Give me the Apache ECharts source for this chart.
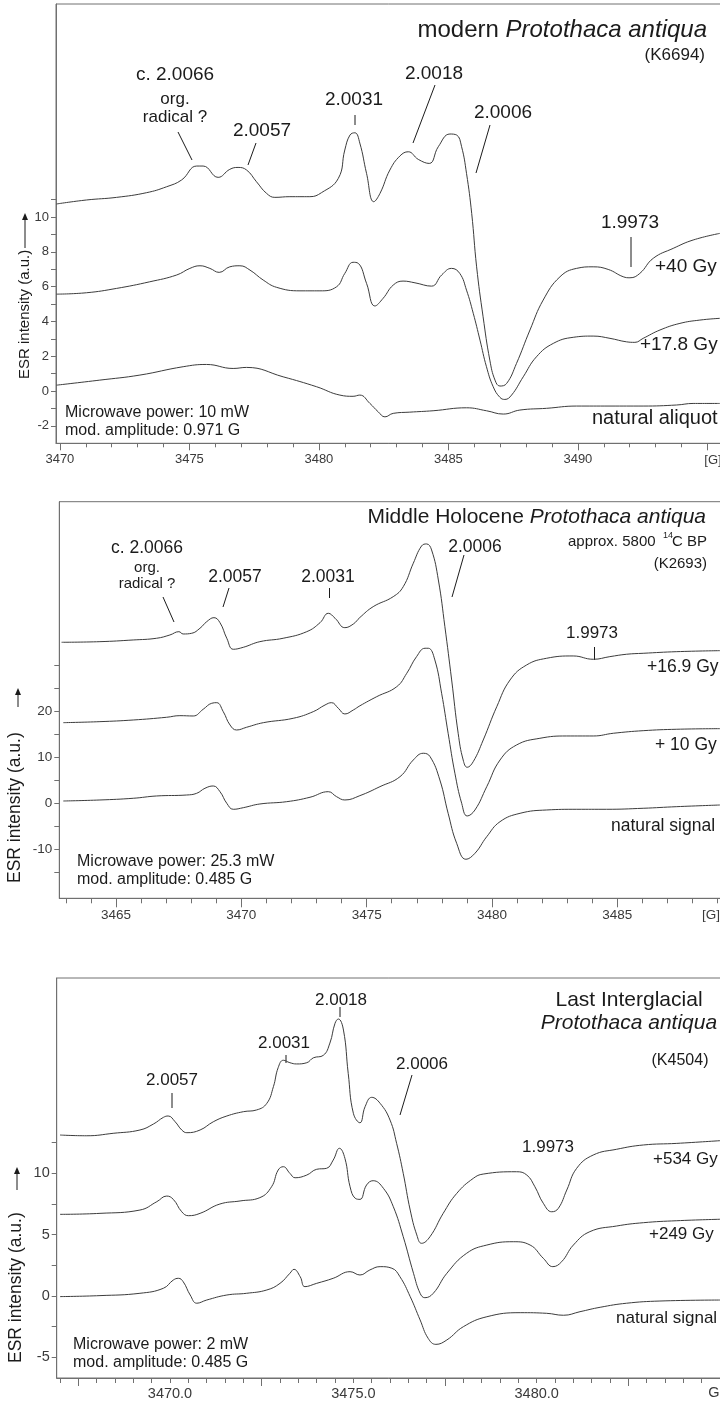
<!DOCTYPE html>
<html>
<head>
<meta charset="utf-8">
<script src="https://cdn.jsdelivr.net/npm/echarts@6/dist/echarts.min.js"></script>
<style>
  html, body { margin: 0; padding: 0; background: #ffffff; }
  #chart { width: 720px; height: 1402px; }
</style>
</head>
<body>
<div id="chart"></div>
<script>
// ---------- ESR spectra: magnetic field [G] and intensity [a.u.] ----------

// modern Protothaca antiqua (K6694)
const modernField40 = [3469.87,3471.03,3472.19,3473.35,3474.12,3474.70,3475.28,3475.53,3476.11,3476.56,3476.88,3477.21,3477.59,3477.98,3478.30,3478.88,3479.65,3480.10,3480.75,3481.00,3481.20,3481.39,3481.58,3481.84,3482.12,3482.36,3482.74,3483.13,3483.45,3483.84,3484.26,3484.61,3485.06,3485.32,3485.51,3485.70,3485.90,3486.09,3486.34,3486.60,3486.80,3486.99,3487.25,3487.63,3488.15,3488.66,3489.31,3489.95,3490.59,3491.17,3491.75,3492.01,3492.39,3492.91,3493.68,3494.45,3495.48];
const modernInt40 = [10.75,10.98,11.13,11.40,11.74,12.13,12.93,12.93,12.28,12.74,12.85,12.70,12.03,11.36,11.13,11.17,11.17,11.40,12.22,13.85,14.71,14.84,14.25,12.51,10.88,11.36,12.70,13.51,13.75,13.31,13.08,14.04,14.77,14.71,14.04,12.51,10.21,7.14,4.27,1.78,0.63,0.29,0.44,1.59,3.51,5.23,6.57,7.05,7.14,6.99,6.57,6.51,6.76,7.63,8.20,8.68,9.06];
const modernField178 = [3469.87,3471.03,3472.19,3473.47,3474.51,3475.02,3475.41,3475.79,3476.15,3476.56,3476.95,3477.34,3477.85,3478.37,3479.27,3480.04,3480.68,3481.00,3481.32,3481.52,3481.84,3482.16,3482.48,3482.87,3483.25,3483.71,3484.35,3484.74,3485.12,3485.44,3485.70,3485.96,3486.22,3486.47,3486.73,3486.99,3487.18,3487.44,3487.89,3488.40,3489.05,3489.82,3490.59,3491.24,3491.88,3492.20,3492.52,3493.17,3493.94,3494.71,3495.48];
const modernInt178 = [5.57,5.65,5.90,6.28,6.67,7.05,7.20,7.05,6.82,7.14,7.20,6.95,6.38,5.96,5.76,5.76,5.99,6.76,7.40,7.34,6.19,4.89,5.33,6.09,6.32,6.22,6.03,6.67,7.05,6.76,5.80,4.47,2.93,1.40,0.25,-0.36,-0.48,-0.23,0.82,1.97,2.74,3.09,3.16,3.03,2.83,2.80,3.03,3.51,3.89,4.08,4.18];
const modernFieldNat = [3469.87,3471.54,3473.09,3474.76,3475.66,3476.69,3477.21,3478.62,3479.91,3480.81,3481.32,3481.58,3481.97,3482.29,3482.55,3482.87,3483.51,3484.41,3485.70,3486.47,3487.12,3487.76,3488.79,3489.95,3491.24,3492.52,3493.81,3494.45,3495.48];
const modernIntNat = [0.34,0.63,0.92,1.40,1.53,1.30,1.36,0.82,0.25,-0.23,-0.30,-0.23,-0.71,-1.19,-1.48,-1.28,-1.21,-1.13,-0.96,-1.13,-1.32,-1.09,-0.99,-0.86,-0.86,-0.86,-0.80,-0.71,-0.71];

// Middle Holocene Protothaca antiqua (K2693)
const holoceneField169 = [3462.83,3464.36,3465.69,3466.62,3467.15,3467.51,3467.68,3468.02,3468.35,3468.62,3468.91,3469.15,3469.42,3469.68,3470.08,3470.74,3471.67,3472.61,3473.14,3473.47,3473.74,3474.13,3474.47,3474.73,3475.26,3476.06,3476.46,3476.86,3477.19,3477.39,3477.59,3477.86,3478.12,3478.39,3478.65,3478.85,3479.01,3479.25,3479.65,3480.19,3480.72,3481.38,3482.18,3483.24,3484.04,3484.70,3485.37,3486.03,3487.37,3489.09];
const holoceneInt169 = [34.99,35.12,35.49,35.86,36.57,37.29,36.79,36.94,38.03,39.46,40.33,39.24,35.86,33.47,33.90,35.12,35.86,37.29,39.24,41.28,40.20,38.16,38.96,40.37,42.72,44.89,47.06,52.14,55.89,56.33,55.03,48.51,38.38,26.81,15.24,9.44,7.86,9.07,13.78,21.01,26.81,30.06,31.52,32.02,31.30,31.87,32.39,32.60,32.95,33.17];
const holoceneField10 = [3462.90,3464.36,3465.69,3467.02,3467.55,3468.08,3468.48,3468.82,3469.02,3469.28,3469.55,3469.81,3470.21,3470.88,3472.07,3472.87,3473.34,3473.60,3473.87,3474.13,3474.47,3474.73,3475.40,3476.20,3476.60,3476.99,3477.33,3477.46,3477.72,3477.99,3478.25,3478.52,3478.79,3479.01,3479.32,3479.79,3480.32,3480.98,3481.91,3482.98,3484.04,3484.84,3486.03,3487.37,3489.09];
const holoceneInt10 = [17.54,17.76,18.12,18.71,19.06,18.99,20.45,21.75,21.88,19.93,17.04,15.95,16.54,17.54,18.49,19.93,21.38,21.88,20.66,19.43,20.30,21.20,23.18,25.35,28.26,31.87,33.69,33.69,31.15,23.92,15.24,6.56,0.04,-2.71,-1.41,3.65,9.44,12.70,14.15,14.65,14.65,15.24,15.80,16.11,16.24];
const holoceneFieldNat = [3462.90,3464.36,3465.69,3466.62,3467.82,3468.22,3468.55,3468.88,3469.15,3469.42,3469.68,3470.08,3470.74,3471.81,3472.74,3473.47,3473.80,3474.13,3474.73,3475.53,3476.33,3476.86,3477.26,3477.53,3477.92,3478.25,3478.59,3478.96,3479.32,3479.79,3480.32,3481.12,3482.18,3483.38,3484.57,3486.03,3487.37,3489.09];
const holoceneIntNat = [0.54,0.76,1.13,1.63,1.84,2.21,3.30,3.80,2.56,0.04,-1.26,-0.91,-0.11,0.39,1.35,2.56,1.48,0.76,1.70,3.65,5.82,9.44,10.90,10.16,5.10,-2.13,-8.64,-12.11,-10.81,-7.21,-3.95,-2.13,-1.41,-1.26,-1.26,-1.04,-0.69,-0.33];

// Last Interglacial Protothaca antiqua (K4504)
const interglacialField534 = [3467.00,3467.73,3468.45,3469.18,3469.55,3469.82,3469.95,3470.14,3470.32,3470.46,3470.82,3471.18,3471.55,3472.00,3472.36,3472.64,3472.82,3472.95,3473.09,3473.27,3473.45,3473.73,3473.91,3474.18,3474.36,3474.50,3474.59,3474.73,3474.86,3475.00,3475.18,3475.32,3475.50,3475.73,3476.00,3476.18,3476.36,3476.55,3476.73,3476.86,3477.09,3477.45,3477.82,3478.27,3478.54,3479.45,3479.73,3479.95,3480.18,3480.41,3480.59,3480.82,3481.09,3481.54,3482.18,3482.91,3483.82,3485.00];
const interglacialInt534 = [13.11,13.05,13.25,13.52,14.01,14.55,14.66,14.19,13.52,13.30,13.52,14.19,14.66,15.01,15.15,15.69,17.05,18.60,19.20,19.00,18.90,19.00,19.40,19.60,20.60,22.21,22.56,21.66,18.13,14.88,14.11,15.42,16.18,15.69,14.33,12.43,9.99,7.00,4.97,4.29,4.83,6.73,8.36,9.58,9.93,10.12,9.85,8.90,7.55,6.86,7.14,8.63,10.40,11.48,11.95,12.30,12.43,12.65];
const interglacialField249 = [3467.00,3468.09,3469.18,3469.64,3469.91,3470.09,3470.32,3470.50,3470.82,3471.36,3471.91,3472.45,3472.77,3472.95,3473.09,3473.27,3473.41,3473.73,3474.00,3474.27,3474.45,3474.62,3474.77,3474.91,3475.05,3475.18,3475.36,3475.54,3475.82,3476.09,3476.36,3476.64,3476.82,3476.95,3477.18,3477.55,3478.09,3478.64,3479.36,3479.82,3480.18,3480.44,3480.68,3481.00,3481.45,3482.18,3482.91,3483.82,3485.00];
const interglacialInt249 = [6.65,6.73,7.00,7.68,8.14,7.87,6.86,6.54,6.73,7.49,7.74,8.01,8.90,10.26,10.53,9.99,9.63,9.85,10.32,10.40,11.07,12.03,11.21,8.90,7.96,7.87,9.04,9.39,8.77,7.27,4.83,1.85,0.22,-0.14,0.22,1.85,3.48,4.15,4.42,4.15,3.07,2.39,2.79,4.15,5.24,5.70,5.97,6.13,6.25];
const interglacialFieldNat = [3467.00,3468.09,3469.18,3469.82,3470.09,3470.23,3470.36,3470.55,3470.73,3471.00,3471.55,3472.09,3472.64,3473.00,3473.27,3473.38,3473.55,3473.68,3474.00,3474.45,3474.91,3475.18,3475.45,3475.73,3476.05,3476.27,3476.55,3476.82,3477.04,3477.25,3477.55,3478.00,3478.64,3479.55,3480.27,3480.73,3481.18,3481.73,3482.45,3483.36,3485.00];
const interglacialIntNat = [-0.05,0.03,0.22,0.63,1.30,1.44,1.16,0.08,-0.59,-0.33,0.08,0.22,0.49,1.03,1.85,2.17,1.57,0.76,1.03,1.44,1.98,1.71,2.12,2.39,2.26,1.57,-0.05,-1.95,-3.45,-3.94,-3.58,-2.50,-1.69,-1.36,-1.41,-1.57,-1.28,-0.92,-0.59,-0.41,-0.33];

// tick labels
const modernFieldLabels = [3470, 3475, 3480, 3485, 3490];
const modernIntLabels = [-2, 0, 2, 4, 6, 8, 10];
const holoceneFieldLabels = [3465, 3470, 3475, 3480, 3485];
const holoceneIntLabels = [-10, 0, 10, 20];
const interglacialFieldLabels = [3470, 3475, 3480];
const interglacialIntLabels = [-5, 0, 5, 10];

// ---------- helpers ----------
const FONT = '"Liberation Sans", Arial, Helvetica, sans-serif';
const INK = '#1b1b1b';
const CURVE = '#3c3c3c';
const FRAME = '#707070';
const TICKTXT = '#3a3a3a';

function steps(a, b, s) {
  const out = [];
  for (let v = a; v <= b + 1e-9; v += s) out.push(+v.toFixed(3));
  return out;
}
function without(arr, ex) {
  return arr.filter(v => !ex.some(e => Math.abs(e - v) < 1e-6));
}
function pairs(xs, ys) {
  const n = Math.min(xs.length, ys.length);
  const out = [];
  for (let i = 0; i < n; i++) out.push([xs[i], ys[i]]);
  return out;
}

// ---------- panel layout ----------
const panels = [
  {
    left: 56, top: 4, height: 439.3, ppg: 25.9,
    xMin: 3469.85, xMax: 3496.2, yMin: -3, yMax: 22.24,
    xMajor: steps(3470, 3495, 5), xMinor: without(steps(3470, 3496, 1), steps(3470, 3495, 5)),
    xLabels: modernFieldLabels, xFmt: v => String(v),
    yTicks: steps(-2, 11, 1), yLabels: modernIntLabels,
    majorLen: 7, minorLen: 4, fs: 13, xMargin: 10,
    curves: [[modernField40, modernInt40], [modernField178, modernInt178], [modernFieldNat, modernIntNat]]
  },
  {
    left: 59.3, top: 501.7, height: 396.6, ppg: 25.07,
    xMin: 3462.74, xMax: 3490, yMin: -20.58, yMax: 65.5,
    xMajor: steps(3465, 3485, 5), xMinor: without(steps(3463, 3489, 1), steps(3465, 3485, 5)),
    xLabels: holoceneFieldLabels, xFmt: v => String(v),
    yTicks: steps(-15, 30, 5), yLabels: holoceneIntLabels,
    majorLen: 9, minorLen: 5, fs: 13.5, xMargin: 10,
    curves: [[holoceneField169, holoceneInt169], [holoceneField10, holoceneInt10], [holoceneFieldNat, holoceneIntNat]]
  },
  {
    left: 56.7, top: 978, height: 400, ppg: 36.67,
    xMin: 3466.91, xMax: 3486, yMin: -6.68, yMax: 25.9,
    xMajor: steps(3467.5, 3482.5, 5), xMinor: without(steps(3467, 3485, 0.5), steps(3467.5, 3482.5, 5)),
    xLabels: interglacialFieldLabels, xFmt: v => v.toFixed(1),
    yTicks: steps(-5, 12.5, 2.5), yLabels: interglacialIntLabels,
    majorLen: 8, minorLen: 5, fs: 14.5, xMargin: 8,
    curves: [[interglacialField534, interglacialInt534], [interglacialField249, interglacialInt249], [interglacialFieldNat, interglacialIntNat]]
  }
];

const grids = [], xAxes = [], yAxes = [], series = [];
panels.forEach((p, i) => {
  grids.push({
    left: p.left, top: p.top, height: p.height, width: (p.xMax - p.xMin) * p.ppg,
    show: true, borderColor: FRAME, borderWidth: 1, backgroundColor: 'transparent',
    containLabel: false, outerBoundsMode: 'none'
  });
  const labelStyle = { color: TICKTXT, fontSize: p.fs, fontFamily: FONT };
  xAxes.push({
    gridIndex: i, type: 'value', position: 'bottom', min: p.xMin, max: p.xMax,
    axisLine: { show: true, onZero: false, lineStyle: { color: FRAME, width: 1 } },
    axisTick: { show: true, customValues: p.xMajor, length: p.majorLen, lineStyle: { color: FRAME, width: 1 } },
    axisLabel: Object.assign({ show: true, customValues: p.xLabels, formatter: p.xFmt, margin: p.xMargin }, labelStyle),
    splitLine: { show: false }
  });
  xAxes.push({
    gridIndex: i, type: 'value', position: 'bottom', min: p.xMin, max: p.xMax,
    axisLine: { show: false, onZero: false },
    axisTick: { show: true, customValues: p.xMinor, length: p.minorLen, lineStyle: { color: FRAME, width: 1 } },
    axisLabel: { show: false },
    splitLine: { show: false }
  });
  yAxes.push({
    gridIndex: i, type: 'value', position: 'left', min: p.yMin, max: p.yMax,
    axisLine: { show: true, onZero: false, lineStyle: { color: FRAME, width: 1 } },
    axisTick: { show: true, customValues: p.yTicks, length: 5, lineStyle: { color: FRAME, width: 1 } },
    axisLabel: Object.assign({ show: true, customValues: p.yLabels, margin: 7,
      verticalAlign: 'middle', padding: [0, 0, 8, 0] }, labelStyle),
    splitLine: { show: false }
  });
  p.curves.forEach(([xs, ys]) => {
    series.push({
      type: 'line', xAxisIndex: 2 * i, yAxisIndex: i,
      data: pairs(xs, ys), showSymbol: false, symbol: 'none',
      smooth: 0.45, silent: true,
      lineStyle: { color: CURVE, width: 1 }
    });
  });
});

// ---------- annotations ----------
function txt(x, y, s, size, align, extra) {
  return {
    type: 'text', x: x, y: y, silent: true,
    style: Object.assign({
      text: s, fill: INK, fontSize: size, fontFamily: FONT,
      align: align || 'left', verticalAlign: 'middle',
      textAlign: align || 'left', textVerticalAlign: 'middle'
    }, extra || {})
  };
}
function richTitle(x, y, plain, italic, size, align) {
  return {
    type: 'text', x: x, y: y, silent: true,
    style: {
      text: (plain ? '{n|' + plain + '}' : '') + '{i|' + italic + '}',
      rich: {
        n: { fontSize: size, fontFamily: FONT, fill: INK },
        i: { fontSize: size, fontFamily: FONT, fontStyle: 'italic', fill: INK }
      },
      align: align, verticalAlign: 'middle', textAlign: align, textVerticalAlign: 'middle'
    }
  };
}
function seg(x1, y1, x2, y2) {
  return { type: 'line', silent: true, shape: { x1, y1, x2, y2 }, style: { stroke: INK, lineWidth: 1 } };
}
function axisName(x, yStart, size, arrowX, arrowTail, arrowHead) {
  return [
    { type: 'text', x: x, y: yStart, rotation: Math.PI / 2, silent: true,
      style: { text: 'ESR intensity (a.u.)', fill: INK, fontSize: size, fontFamily: FONT,
        align: 'left', verticalAlign: 'middle', textAlign: 'left', textVerticalAlign: 'middle' } },
    seg(arrowX, arrowTail, arrowX, arrowHead + 5),
    { type: 'polygon', silent: true,
      shape: { points: [[arrowX - 3, arrowHead + 7], [arrowX + 3, arrowHead + 7], [arrowX, arrowHead]] },
      style: { fill: INK } }
  ];
}

const graphics = [].concat(
  // modern shell
  [
    richTitle(707, 30, 'modern ', 'Protothaca antiqua', 24, 'right'),
    txt(705, 55, '(K6694)', 17, 'right'),
    txt(175, 75, 'c. 2.0066', 19, 'center'),
    txt(175, 99, 'org.', 17, 'center'),
    txt(175, 117, 'radical ?', 17, 'center'),
    seg(178, 132, 192, 160),
    txt(262, 131, '2.0057', 19, 'center'),
    seg(256, 143, 248, 165),
    txt(354, 100, '2.0031', 19, 'center'),
    seg(355, 115, 355, 125),
    txt(434, 74, '2.0018', 19, 'center'),
    seg(435, 85, 413, 143),
    txt(503, 113, '2.0006', 19, 'center'),
    seg(490, 125, 476, 173),
    txt(630, 223, '1.9973', 19, 'center'),
    seg(631, 237, 631, 267),
    txt(655, 267, '+40 Gy', 19),
    txt(640, 345, '+17.8 Gy', 19),
    txt(592, 418, 'natural aliquot', 20),
    txt(65, 413, 'Microwave power: 10 mW', 16),
    txt(65, 431, 'mod. amplitude: 0.971 G', 16),
    txt(713, 460, '[G]', 13, 'center', { fill: TICKTXT })
  ],
  axisName(25, 379, 15, 25, 248, 213),
  // Middle Holocene shell
  [
    richTitle(706, 517, 'Middle Holocene ', 'Protothaca antiqua', 21, 'right'),
    txt(568, 542, 'approx. 5800', 15),
    txt(663, 536, '14', 9),
    txt(707, 542, 'C BP', 15, 'right'),
    txt(707, 564, '(K2693)', 15, 'right'),
    txt(147, 548, 'c. 2.0066', 17.5, 'center'),
    txt(147, 568, 'org.', 15, 'center'),
    txt(147, 584, 'radical ?', 15, 'center'),
    seg(163, 597, 174, 622),
    txt(235, 577, '2.0057', 17.5, 'center'),
    seg(229, 588, 223, 607),
    txt(328, 577, '2.0031', 17.5, 'center'),
    seg(329.5, 588, 329.5, 598),
    txt(475, 547, '2.0006', 17.5, 'center'),
    seg(464, 555, 452, 597),
    txt(592, 633, '1.9973', 17, 'center'),
    seg(594.5, 647, 594.5, 660),
    txt(647, 667, '+16.9 Gy', 17.5),
    txt(655, 745, '+ 10 Gy', 17.5),
    txt(611, 826, 'natural signal', 17.5),
    txt(77, 862, 'Microwave power: 25.3 mW', 16),
    txt(77, 880, 'mod. amplitude: 0.485 G', 16),
    txt(711, 915, '[G]', 13.5, 'center', { fill: TICKTXT })
  ],
  axisName(15, 883, 17.5, 18, 707, 688),
  // Last Interglacial shell
  [
    txt(629, 1000, 'Last Interglacial', 21, 'center'),
    richTitle(629, 1023, '', 'Protothaca antiqua', 21, 'center'),
    txt(680, 1061, '(K4504)', 16, 'center'),
    txt(172, 1080, '2.0057', 17, 'center'),
    seg(172, 1093, 172, 1108),
    txt(284, 1043, '2.0031', 17, 'center'),
    seg(286, 1055, 286, 1063),
    txt(341, 1000, '2.0018', 17, 'center'),
    seg(340, 1007, 340, 1017),
    txt(422, 1064, '2.0006', 17, 'center'),
    seg(412, 1075, 400, 1115),
    txt(548, 1147, '1.9973', 17, 'center'),
    txt(653, 1159, '+534 Gy', 17),
    txt(649, 1234, '+249 Gy', 17),
    txt(616, 1318, 'natural signal', 17),
    txt(73, 1345, 'Microwave power: 2 mW', 16),
    txt(73, 1363, 'mod. amplitude: 0.485 G', 16),
    txt(714, 1393, 'G', 14.5, 'center', { fill: TICKTXT })
  ],
  axisName(16.5, 1363, 17.5, 17, 1190, 1167)
);

const chart = echarts.init(document.getElementById('chart'), null, { renderer: 'canvas', width: 720, height: 1402 });
chart.setOption({
  animation: false,
  backgroundColor: '#ffffff',
  grid: grids,
  xAxis: xAxes,
  yAxis: yAxes,
  series: series,
  graphic: { elements: graphics }
});
</script>
</body>
</html>
